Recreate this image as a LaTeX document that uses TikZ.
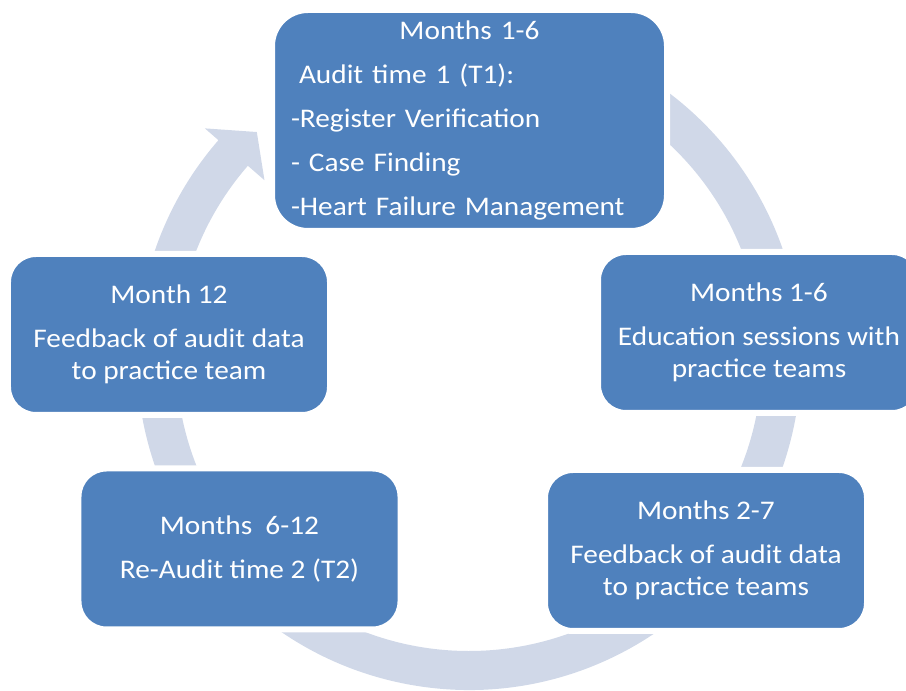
\documentclass[tikz,border=0pt]{standalone}
\usepackage{fontspec}
\setmainfont{Carlito}[FakeStretch=1.09]
\definecolor{boxblue}{HTML}{4F81BD}
\definecolor{ringc}{HTML}{D0D8E8}
\begin{document}
\begin{tikzpicture}[x=1bp,y=1bp,
  stagebox/.style={draw=white, line width=6bp, fill=boxblue, rounded corners=28bp,
    text=white, font=\fontsize{27}{32.4}\selectfont, align=center,
    minimum width=322bp, minimum height=161bp, inner sep=0pt},
  ]
\useasboundingbox (0,0) rectangle (906,691);
\clip (0,0) rectangle (906,691);
% ring arrow
\begin{scope}[shift={(469,333)}]
\fill[ringc] (80:332) arc[start angle=80, end angle=-221, radius=332]
  -- (-221:350) -- (-226.8:310) -- (-221:271) -- (-221:293)
  arc[start angle=-221, end angle=80, radius=293] -- cycle;
\end{scope}
% boxes
\node[stagebox, minimum width=395bp, minimum height=221bp, rounded corners=36bp,
  text width=357bp, align=left, inner xsep=19bp] (t1) at (469.5,570.5)
  {\makebox[357bp][c]{Months 1-6}\\[11.6bp]
   \hspace*{8bp}Audit time 1 (T1):\\[11.6bp]
   -Register Verification\\[11.6bp]
   - Case Finding\\[11.6bp]
   -Heart Failure Management};
\node[stagebox] (edu) at (759,358.5)
  {Months 1-6\\[11.6bp]Education sessions with\\practice teams};
\node[stagebox] (fb1) at (706,140.5)
  {Months 2-7\\[11.6bp]Feedback of audit data\\to practice teams};
\node[stagebox] (t2) at (239.5,142)
  {Months\ \ 6-12\\[11.6bp]Re-Audit time 2 (T2)};
\node[stagebox] (fb2) at (169,356.5)
  {Month 12\\[11.6bp]Feedback of audit data\\to practice team};
\end{tikzpicture}
\end{document}
